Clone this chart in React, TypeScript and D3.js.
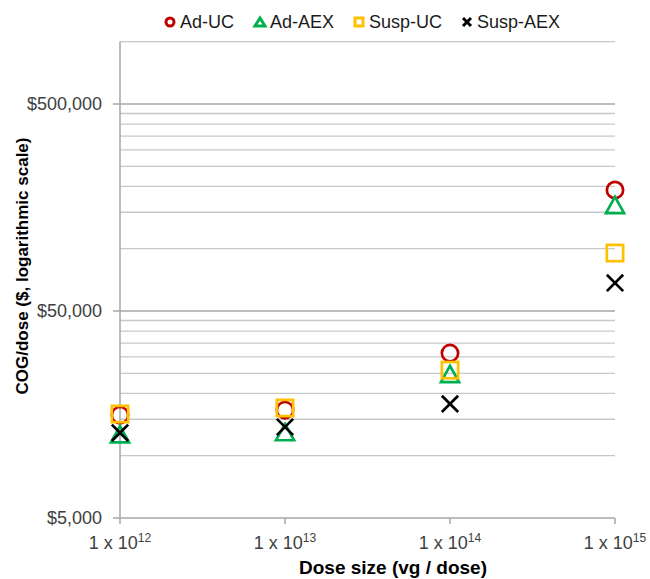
import * as d3 from "d3";

// Dose sizes (vg / dose) and COG per dose ($) for each scenario
const doses = [1e12, 1e13, 1e14, 1e15];
const doseExponents = ["12", "13", "14", "15"];
const adUC = [15700, 16600, 31300, 192000];
const adAEX = [12700, 13000, 24800, 162600];
const suspUC = [15900, 17000, 25900, 95300];
const suspAEX = [12900, 13760, 17800, 68300];
const yTickValues = [5000, 50000, 500000];

type Marker = "circle" | "triangle" | "square" | "cross";

const series: { name: string; color: string; marker: Marker; values: number[] }[] = [
  { name: "Ad-UC", color: "#C00000", marker: "circle", values: adUC },
  { name: "Ad-AEX", color: "#00B050", marker: "triangle", values: adAEX },
  { name: "Susp-UC", color: "#FFC000", marker: "square", values: suspUC },
  { name: "Susp-AEX", color: "#000000", marker: "cross", values: suspAEX },
];

const W = 650;
const H = 579;
const margin = { left: 120, right: 35, top: 41.7, bottom: 61 };
const FONT = "'Liberation Sans', Arial, sans-serif";

function MarkerShape({ type, color, x, y, s, sw }: { type: Marker; color: string; x: number; y: number; s: number; sw: number }) {
  if (type === "circle")
    return <circle cx={x} cy={y} r={s / 2 - sw / 2} fill="none" stroke={color} strokeWidth={sw} />;
  if (type === "square")
    return (
      <rect x={x - s / 2 + sw / 2} y={y - s / 2 + sw / 2} width={s - sw} height={s - sw} fill="none" stroke={color} strokeWidth={sw} />
    );
  if (type === "triangle") {
    const h = s - sw;
    const p = `M${x},${y - h / 2}L${x + h / 2 + sw / 3},${y + h / 2}L${x - h / 2 - sw / 3},${y + h / 2}Z`;
    return <path d={p} fill="none" stroke={color} strokeWidth={sw} strokeLinejoin="miter" />;
  }
  const r = s / 2 - sw / 2;
  return (
    <path d={`M${x - r},${y - r}L${x + r},${y + r}M${x - r},${y + r}L${x + r},${y - r}`} stroke={color} strokeWidth={sw} />
  );
}

export default function App() {
  const x = d3.scaleLog().domain([1e12, 1e15]).range([margin.left, W - margin.right]);
  const y = d3.scaleLog().domain([5000, 1e6]).range([H - margin.bottom, margin.top]);

  // minor gridlines at multiples of the base unit within each decade
  const grid: number[] = [];
  for (const base of yTickValues) {
    for (let k = 2; k <= 9; k++) {
      const v = base * k;
      if (v <= 1e6) grid.push(v);
    }
  }

  const [x0, x1] = x.range();
  const [y0, y1] = y.range();
  const legendPos = [170, 260, 359, 467];

  return (
    <div style={{ position: "absolute", left: 0, top: 0 }}>
      <svg width={W} height={H} style={{ display: "block", background: "#fff" }} fontFamily={FONT}>
        {/* gridlines */}
        {grid.map((v) => (
          <line key={"g" + v} x1={x0} x2={x1} y1={y(v)} y2={y(v)} stroke="#C8C8C8" strokeWidth={1.3} />
        ))}
        {yTickValues.slice(1).map((v) => (
          <line key={"m" + v} x1={x0} x2={x1} y1={y(v)} y2={y(v)} stroke="#A6A6A6" strokeWidth={1.5} />
        ))}
        {/* axes */}
        <line x1={x0} x2={x0} y1={y0} y2={y1} stroke="#A6A6A6" strokeWidth={1.5} />
        <line x1={x0} x2={x1} y1={y0} y2={y0} stroke="#A6A6A6" strokeWidth={1.5} />
        {yTickValues.map((v) => (
          <g key={"yt" + v}>
            <line x1={x0 - 7} x2={x0} y1={y(v)} y2={y(v)} stroke="#A6A6A6" strokeWidth={1.5} />
            <text x={102} y={y(v)} dy="0.35em" textAnchor="end" fontSize={18} fill="#404040">
              {"$" + d3.format(",")(v)}
            </text>
          </g>
        ))}
        {doses.map((d, i) => (
          <g key={"xt" + d}>
            <line x1={x(d)} x2={x(d)} y1={y0} y2={y0 + 6} stroke="#A6A6A6" strokeWidth={1.5} />
            <text x={x(d)} y={549} textAnchor="middle" fontSize={18} fill="#404040">
              1 x 10
              <tspan fontSize={12} dy={-7}>
                {doseExponents[i]}
              </tspan>
            </text>
          </g>
        ))}
        {/* axis titles */}
        <text x={393} y={574} textAnchor="middle" fontSize={19} fontWeight="bold" fill="#000">
          Dose size (vg / dose)
        </text>
        <text
          transform={`translate(28,266) rotate(-90)`}
          textAnchor="middle"
          fontSize={17}
          fontWeight="bold"
          fill="#000"
        >
          COG/dose ($, logarithmic scale)
        </text>
        {/* data */}
        {series.map((s) => (
          <g key={s.name}>
            {s.values.map((v, i) => (
              <MarkerShape key={i} type={s.marker} color={s.color} x={x(doses[i])} y={y(v)} s={19} sw={2.7} />
            ))}
          </g>
        ))}
        {/* legend */}
        {series.map((s, i) => (
          <g key={"l" + s.name}>
            <MarkerShape type={s.marker} color={s.color} x={legendPos[i]} y={22} s={11} sw={3} />
            <text x={legendPos[i] + 10} y={22} dy="0.35em" fontSize={18} fill="#1a1a1a">
              {s.name}
            </text>
          </g>
        ))}
      </svg>
    </div>
  );
}
